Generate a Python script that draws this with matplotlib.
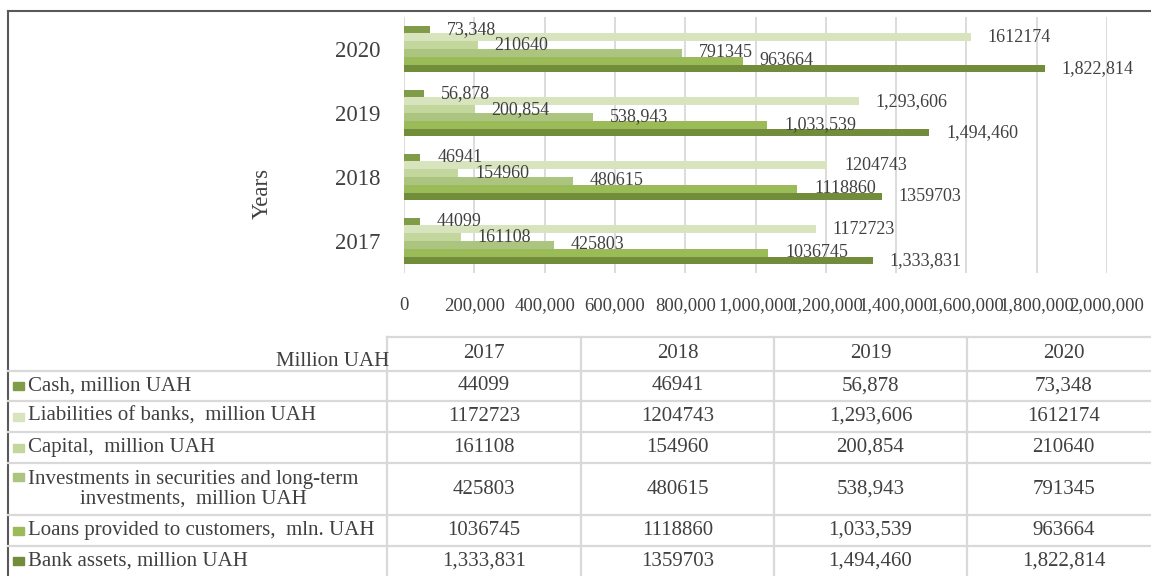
import numpy as np
import matplotlib
matplotlib.use("Agg")
import matplotlib.pyplot as plt
from matplotlib.lines import Line2D
from matplotlib.patches import Rectangle
from matplotlib.ticker import FuncFormatter, MultipleLocator

plt.rcParams['font.family'] = ['Liberation Serif', 'DejaVu Serif']

years = ['2017', '2018', '2019', '2020']

# series, top to bottom inside each year group
series_names = ['Cash, million UAH',
                'Liabilities of banks,  million UAH',
                'Capital,  million UAH',
                'Investments in securities and long-term\ninvestments,  million UAH',
                'Loans provided to customers,  mln. UAH',
                'Bank assets, million UAH']

cash = [44099, 46941, 56878, 73348]
liabilities = [1172723, 1204743, 1293606, 1612174]
capital = [161108, 154960, 200854, 210640]
investments = [425803, 480615, 538943, 791345]
loans = [1036745, 1118860, 1033539, 963664]
assets = [1333831, 1359703, 1494460, 1822814]

# labels exactly as printed in the source (mixed formatting)
cash_lbl = ['44099', '46941', '56,878', '73,348']
liabilities_lbl = ['1172723', '1204743', '1,293,606', '1612174']
capital_lbl = ['161108', '154960', '200,854', '210640']
investments_lbl = ['425803', '480615', '538,943', '791345']
loans_lbl = ['1036745', '1118860', '1,033,539', '963664']
assets_lbl = ['1,333,831', '1359703', '1,494,460', '1,822,814']

values = [cash, liabilities, capital, investments, loans, assets]
labels = [cash_lbl, liabilities_lbl, capital_lbl, investments_lbl, loans_lbl, assets_lbl]
colors = ['#809c48', '#d7e4bd', '#c3d69b', '#abc47f', '#9bbb59', '#718c3a']

W, H = 1151, 576
txt = '#404040'
grid_c = '#d9d9d9'

def fx(x):
    return x / W

def fy(y):
    return 1 - y / H

fig = plt.figure(figsize=(W / 100, H / 100), dpi=100)
ax = fig.add_axes([fx(404), fy(273), fx(1107) - fx(404), fy(17) - fy(273)])

ypos = np.arange(len(years))
h = 0.122
for i, (vals, lbls, col) in enumerate(zip(values, labels, colors)):
    off = (2.5 - i) * h
    ax.barh(ypos + off, vals, height=h, color=col, edgecolor='none', zorder=2)
    for y, v, l in zip(ypos, vals, lbls):
        ax.annotate(l, (v, y + off), xytext=(12, 0), textcoords='offset points',
                    ha='left', va='center', fontsize=13, color=txt, zorder=3)

ax.set_xlim(0, 2000000)
ax.set_ylim(-0.5, 3.5)
ax.xaxis.set_major_locator(MultipleLocator(200000))
ax.xaxis.set_major_formatter(FuncFormatter(lambda v, p: f'{int(v):,}'))
ax.grid(axis='x', color=grid_c, lw=1.3, zorder=0)
ax.set_yticks(ypos)
ax.set_yticklabels(years, fontsize=16.5, color=txt)
ax.tick_params(axis='x', length=0, pad=17, labelsize=13.5, labelcolor=txt)
ax.tick_params(axis='y', length=0, pad=17)
for s in ax.spines.values():
    s.set_visible(False)
ax.set_ylabel('Years', fontsize=16.5, color=txt)
ax.yaxis.set_label_coords(-0.187, 0.31)

# outer frame (left and top)
fig.add_artist(Line2D([fx(8), fx(8)], [fy(11), 0], color='#595959', lw=1.5))
fig.add_artist(Line2D([fx(8), 1], [fy(11), fy(11)], color='#595959', lw=1.5))

# data table
col_x = [387, 581, 774, 967, 1160]
row_y = [337, 371, 401, 432, 463, 515, 546, 576]

fig.add_artist(Line2D([fx(387), 1], [fy(337), fy(337)], color=grid_c, lw=1.6))
for y in row_y[1:-1]:
    fig.add_artist(Line2D([fx(8), 1], [fy(y), fy(y)], color=grid_c, lw=1.6))
for x in col_x[:-1]:
    fig.add_artist(Line2D([fx(x), fx(x)], [fy(337), 0], color=grid_c, lw=1.6))

fig.text(fx(389), fy(362), 'Million UAH', ha='right', va='center', fontsize=15, color=txt)
for j, yr in enumerate(years):
    cx = (col_x[j] + col_x[j + 1]) / 2
    fig.text(fx(cx), fy(354), yr, ha='center', va='center', fontsize=15, color=txt)

for i, (name, lbls, col) in enumerate(zip(series_names, labels, colors)):
    top, bot = row_y[i + 1], row_y[i + 2]
    cy = (top + bot) / 2
    my = 477 if '\n' in name else cy
    fig.add_artist(Rectangle((fx(13), fy(my + 4)), fx(11), 8 / H, color=col,
                             transform=fig.transFigure))
    fig.text(fx(28), fy(cy), name, ha='left', va='center', fontsize=15, color=txt,
             multialignment='center', linespacing=1.05)
    for j, l in enumerate(lbls):
        cx = (col_x[j] + col_x[j + 1]) / 2
        fig.text(fx(cx), fy(cy), l, ha='center', va='center', fontsize=15, color=txt)

fig.savefig('out.png', dpi=100)
